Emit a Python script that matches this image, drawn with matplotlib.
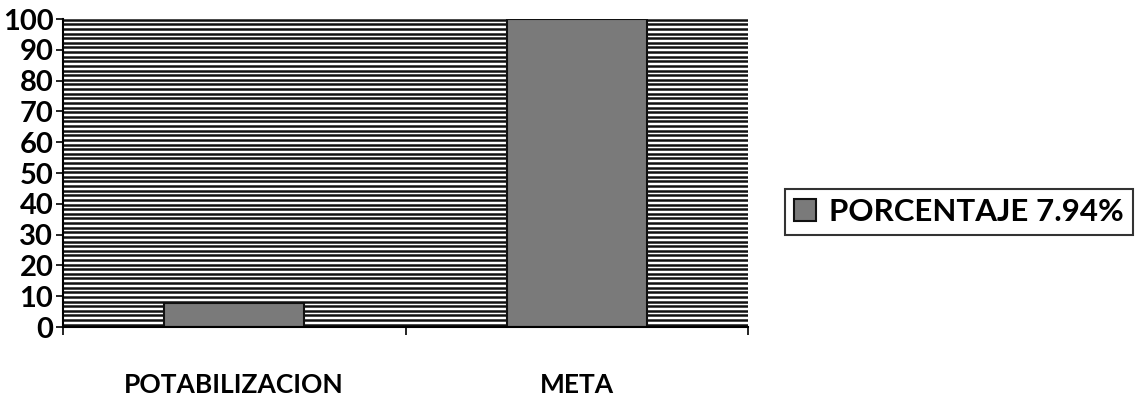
import numpy as np
import matplotlib.pyplot as plt
from matplotlib.ticker import FixedLocator

categories = ["POTABILIZACION", "META"]
values = [7.94, 100]
legend_label = "PORCENTAJE 7.94%"
y_ticks = list(range(0, 101, 10))

plt.rcParams['font.family'] = ['Lato', 'DejaVu Sans']

fig = plt.figure(figsize=(11.39, 4.09), dpi=100)
ax = fig.add_axes([63 / 1139, 1 - 327 / 409, 685 / 1139, 308 / 409])

# striped plot-area background
for yy in np.arange(0.75, 100, 1.5):
    ax.axhline(yy, color="#111111", linewidth=1.8, zorder=0)

x = np.arange(len(categories))
ax.bar(x, values, width=0.41, color="#7a7a7a", edgecolor="#111111",
       linewidth=1.5, label=legend_label, zorder=2)

ax.set_xlim(-0.5, len(categories) - 0.5)
ax.set_ylim(0, 100)
ax.set_yticks(y_ticks)
ax.set_yticklabels([str(t) for t in y_ticks], fontsize=21, fontweight="bold")
ax.set_xticks(x)
ax.set_xticklabels(categories, fontsize=19, fontweight="bold")
ax.tick_params(axis="x", length=0, pad=33)
ax.xaxis.set_minor_locator(FixedLocator([-0.5, 0.5, 1.5]))
ax.tick_params(axis="x", which="minor", length=6, width=1.2, direction="out")
ax.tick_params(axis="y", length=5, width=1.2, pad=2)

for side in ["top", "right"]:
    ax.spines[side].set_visible(False)
ax.spines["left"].set_linewidth(1.5)
ax.spines["bottom"].set_linewidth(1.5)

leg = fig.legend(loc="center left", bbox_to_anchor=(785 / 1139, 1 - 212 / 409),
                 prop={"weight": "bold", "size": 22.5},
                 frameon=True, fancybox=False, handlelength=0.7, handleheight=0.7,
                 handletextpad=0.4, borderpad=0.3, borderaxespad=0)
leg.get_frame().set_edgecolor("black")
leg.get_frame().set_linewidth(1.5)

plt.savefig("out.png", dpi=100)
